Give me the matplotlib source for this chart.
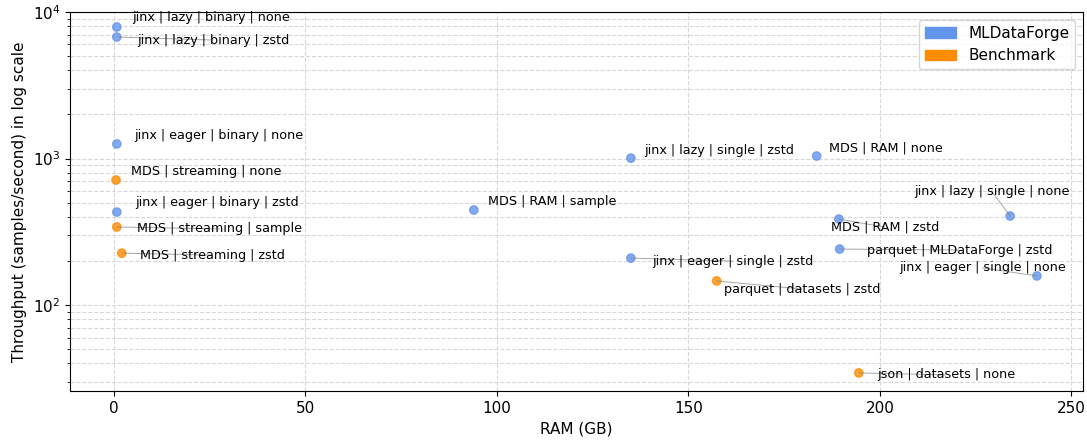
import matplotlib
matplotlib.use("Agg")
import matplotlib.pyplot as plt
from matplotlib.patches import Patch

# RAM (GB) vs throughput (samples/s)
labels = [
    "jinx | lazy | binary | none",
    "jinx | lazy | binary | zstd",
    "jinx | eager | binary | none",
    "MDS | streaming | none",
    "jinx | eager | binary | zstd",
    "MDS | streaming | sample",
    "MDS | streaming | zstd",
    "MDS | RAM | sample",
    "jinx | lazy | single | zstd",
    "MDS | RAM | none",
    "MDS | RAM | zstd",
    "jinx | lazy | single | none",
    "parquet | MLDataForge | zstd",
    "jinx | eager | single | zstd",
    "jinx | eager | single | none",
    "parquet | datasets | zstd",
    "json | datasets | none",
]
ram = [0.8, 0.8, 0.8, 0.6, 0.8, 0.8, 2.1, 94.0, 135.0, 183.5, 189.3, 234.0, 189.5, 135.0, 241.0, 157.4, 194.5]
throughput = [7900, 6750, 1257, 713, 431, 341, 226, 445, 1006, 1040, 386, 405, 241, 209, 158, 146, 34.4]
group = ["ML", "ML", "ML", "B", "ML", "B", "B", "ML", "ML", "ML", "ML", "ML", "ML", "ML", "ML", "B", "B"]

# label placement: offset in points from the dot, horizontal alignment, leader line or not
offsets = [(10.8, 6.5), (14.4, -2.2), (12.2, 5.8), (10.8, 6.5), (13, 7.2), (14.4, -1.4),
           (13, -1.4), (10, 6.5), (9.4, 5.8), (8.6, 5.8), (-5.8, -5.8), (42.5, 18),
           (19.4, -0.7), (15.1, -2.2), (20.9, 5.8), (5, -5.8), (13, -1.4)]
aligns = ["left"] * 11 + ["right", "left", "left", "right", "left", "left"]
leader = [False, True, False, False, False, True, True, False, False, False,
          True, True, True, True, True, True, True]

colors = {"ML": "#6495ED", "B": "#FF8C00"}

fig, ax = plt.subplots(figsize=(10.87, 4.41), dpi=100)
fig.subplots_adjust(left=0.0644, right=0.9963, bottom=0.1134, top=0.9728)

ax.scatter(ram, throughput, c=[colors[g] for g in group], s=36, alpha=0.8, zorder=3)
ax.set_yscale("log")

for lab, x, y, (dx, dy), ha, ln in zip(labels, ram, throughput, offsets, aligns, leader):
    arrow = None
    if ln:
        arrow = dict(arrowstyle="-", color="gray", lw=0.7, alpha=0.7,
                     patchA=None, shrinkA=0, shrinkB=0, relpos=(0.5, 0.5))
    ax.annotate(lab, (x, y), xytext=(dx, dy), textcoords="offset points",
                ha=ha, va="center", fontsize=9.2, arrowprops=arrow, zorder=4)

ax.set_ylim(25.9, 10000)
ax.set_xlabel("RAM (GB)", fontsize=11)
ax.set_ylabel("Throughput (samples/second) in log scale", fontsize=11)
ax.tick_params(labelsize=11)
ax.grid(True, which="both", linestyle="--", color="#d8d8d8", linewidth=0.8)
ax.set_axisbelow(True)

handles = [Patch(color=colors["ML"], label="MLDataForge"),
           Patch(color=colors["B"], label="Benchmark")]
ax.legend(handles=handles, loc="upper right", fontsize=11)

fig.savefig("out.png", dpi=100)
